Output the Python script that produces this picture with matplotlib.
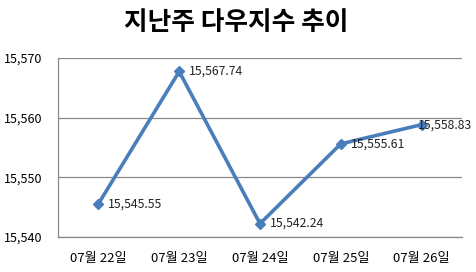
import matplotlib
matplotlib.use("Agg")
import matplotlib.pyplot as plt

plt.rcParams['font.family'] = ['Noto Sans CJK KR', 'DejaVu Sans']

categories = ["07월 22일", "07월 23일", "07월 24일", "07월 25일", "07월 26일"]
values = [15545.55, 15567.74, 15542.24, 15555.61, 15558.83]
yticks = [15540, 15550, 15560, 15570]

fig = plt.figure(figsize=(4.76, 2.72), dpi=100)
ax = fig.add_axes([58/476, 1-237/272, (462-58)/476, (237-58)/272])

x = list(range(len(categories)))
ax.plot(x, values, color='#4a7ebb', lw=2.6, marker='D', markersize=5.5, zorder=3)
for i, (xi, v) in enumerate(zip(x, values)):
    off = 7 if i < len(values) - 1 else -2.5
    ax.annotate(f"{v:,.2f}", (xi, v), xytext=(off, 0), textcoords='offset points',
                va='center', ha='left', fontsize=8.8, color='#222222', zorder=4,
                annotation_clip=False)

ax.set_xlim(-0.5, len(categories) - 0.5)
ax.set_ylim(15540, 15570)
ax.set_yticks(yticks)
ax.set_yticklabels([f"{t:,}" for t in yticks], fontsize=9)
ax.set_xticks(x)
ax.set_xticklabels(categories, fontsize=9.5)
ax.tick_params(axis='x', length=0, pad=11)
ax.tick_params(axis='y', length=0, pad=11)
ax.grid(axis='y', color='#888888', lw=0.9)
ax.set_axisbelow(True)
for s in ['top', 'right']:
    ax.spines[s].set_visible(False)
for s in ['left', 'bottom']:
    ax.spines[s].set_color('#888888')
    ax.spines[s].set_linewidth(0.9)

fig.text(236/476, 1-22/272, "지난주 다우지수 추이", ha='center', va='center',
         fontsize=18.5, fontweight='bold')

fig.savefig("out.png", dpi=100)
